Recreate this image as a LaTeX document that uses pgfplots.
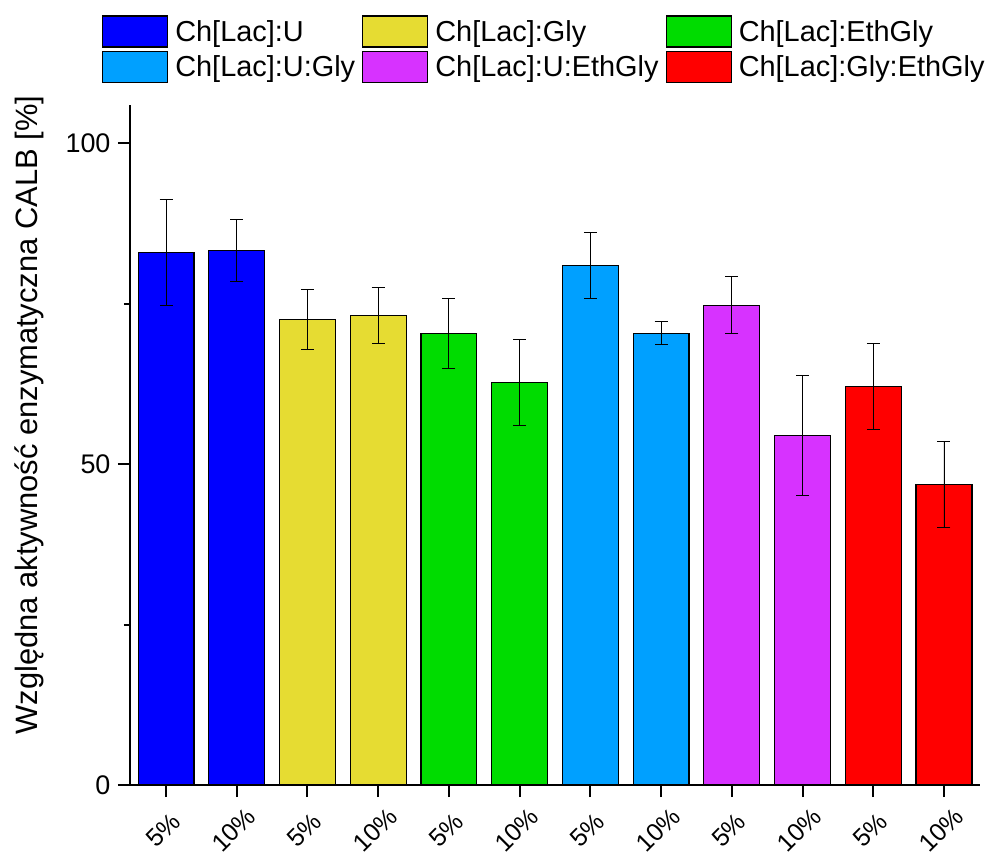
\documentclass[border=0pt]{standalone}
\usepackage{pgfplots}
\pgfplotsset{compat=1.18}
\usepackage{fontspec}
\setmainfont{Liberation Sans}

\definecolor{cU}{RGB}{0,0,255}
\definecolor{cGly}{RGB}{230,220,50}
\definecolor{cEth}{RGB}{0,220,0}
\definecolor{cUGly}{RGB}{0,160,255}
\definecolor{cUEth}{RGB}{215,50,255}
\definecolor{cGlyEth}{RGB}{255,0,0}

\begin{document}
\begin{tikzpicture}
\begin{axis}[
  scale only axis,
  width=850bp, height=680bp,
  xmin=-0.51, xmax=11.51,
  ymin=0, ymax=106,
  axis x line*=bottom, axis y line*=left,
  axis line style={-, line width=2bp},
  ybar, bar width=0.79, bar shift=0pt,
  xtick={0,...,11},
  xticklabels={5\%,10\%,5\%,10\%,5\%,10\%,5\%,10\%,5\%,10\%,5\%,10\%},
  xticklabel style={xshift=-3bp, rotate=45, anchor=center, font=\fontsize{25}{28}\selectfont},
  xticklabel shift=33bp,
  ytick={0,50,100}, minor ytick={25,75},
  /pgf/number format/assume math mode=true,
  yticklabel style={font=\fontsize{27}{30}\selectfont, xshift=-4bp},
  tick align=outside,
  major tick length=12bp, minor tick length=6bp,
  tick style={line width=2bp, black},
  ylabel={Względna aktywność enzymatyczna CALB [\%]},
  ylabel style={font=\fontsize{31}{34}\selectfont, at={(axis description cs:-0.118,0.544)}, anchor=center},
  every axis plot/.append style={draw=black, line width=1.2bp},
  error bars/y dir=both, error bars/y explicit,
  error bars/error bar style={black, line width=0.9bp},
  error bars/error mark=-,
  error bars/error mark options={rotate=90, black, mark size=6.5bp, line width=0.9bp},
  legend columns=3,
  legend style={at={(axis description cs:-0.033,1.132)}, anchor=north west,
    draw=none, fill=none, inner sep=0pt, row sep=3bp,
    nodes={inner sep=0pt},
    font=\fontsize{29}{32}\selectfont,
    /tikz/every even column/.append style={column sep=7bp}},
  legend cell align=left,
  legend image code/.code={%
    \draw[#1, draw=black, line width=1.2bp] (0bp,-15.5bp) rectangle (65bp,15.5bp);
    \path (72bp,0bp);},
]
\addplot[fill=cU] coordinates {(0,83.0) +- (0,8.2) (1,83.3) +- (0,4.8)};
\addplot[fill=cGly] coordinates {(2,72.6) +- (0,4.7) (3,73.2) +- (0,4.3)};
\addplot[fill=cEth] coordinates {(4,70.4) +- (0,5.4) (5,62.8) +- (0,6.7)};
\addplot[fill=cUGly] coordinates {(6,81.0) +- (0,5.1) (7,70.4) +- (0,1.8)};
\addplot[fill=cUEth] coordinates {(8,74.8) +- (0,4.4) (9,54.5) +- (0,9.3)};
\addplot[fill=cGlyEth] coordinates {(10,62.1) +- (0,6.7) (11,46.9) +- (0,6.7)};
\legend{Ch[Lac]:U, Ch[Lac]:Gly, Ch[Lac]:EthGly, Ch[Lac]:U:Gly, Ch[Lac]:U:EthGly, Ch[Lac]:Gly:EthGly}
\coordinate (bbsw) at (axis description cs:-0.1529,-0.1074);
\coordinate (bbne) at (axis description cs:1.0082,1.1544);
\end{axis}
\pgfresetboundingbox
\path (bbsw) rectangle (bbne);
\end{tikzpicture}
\end{document}
